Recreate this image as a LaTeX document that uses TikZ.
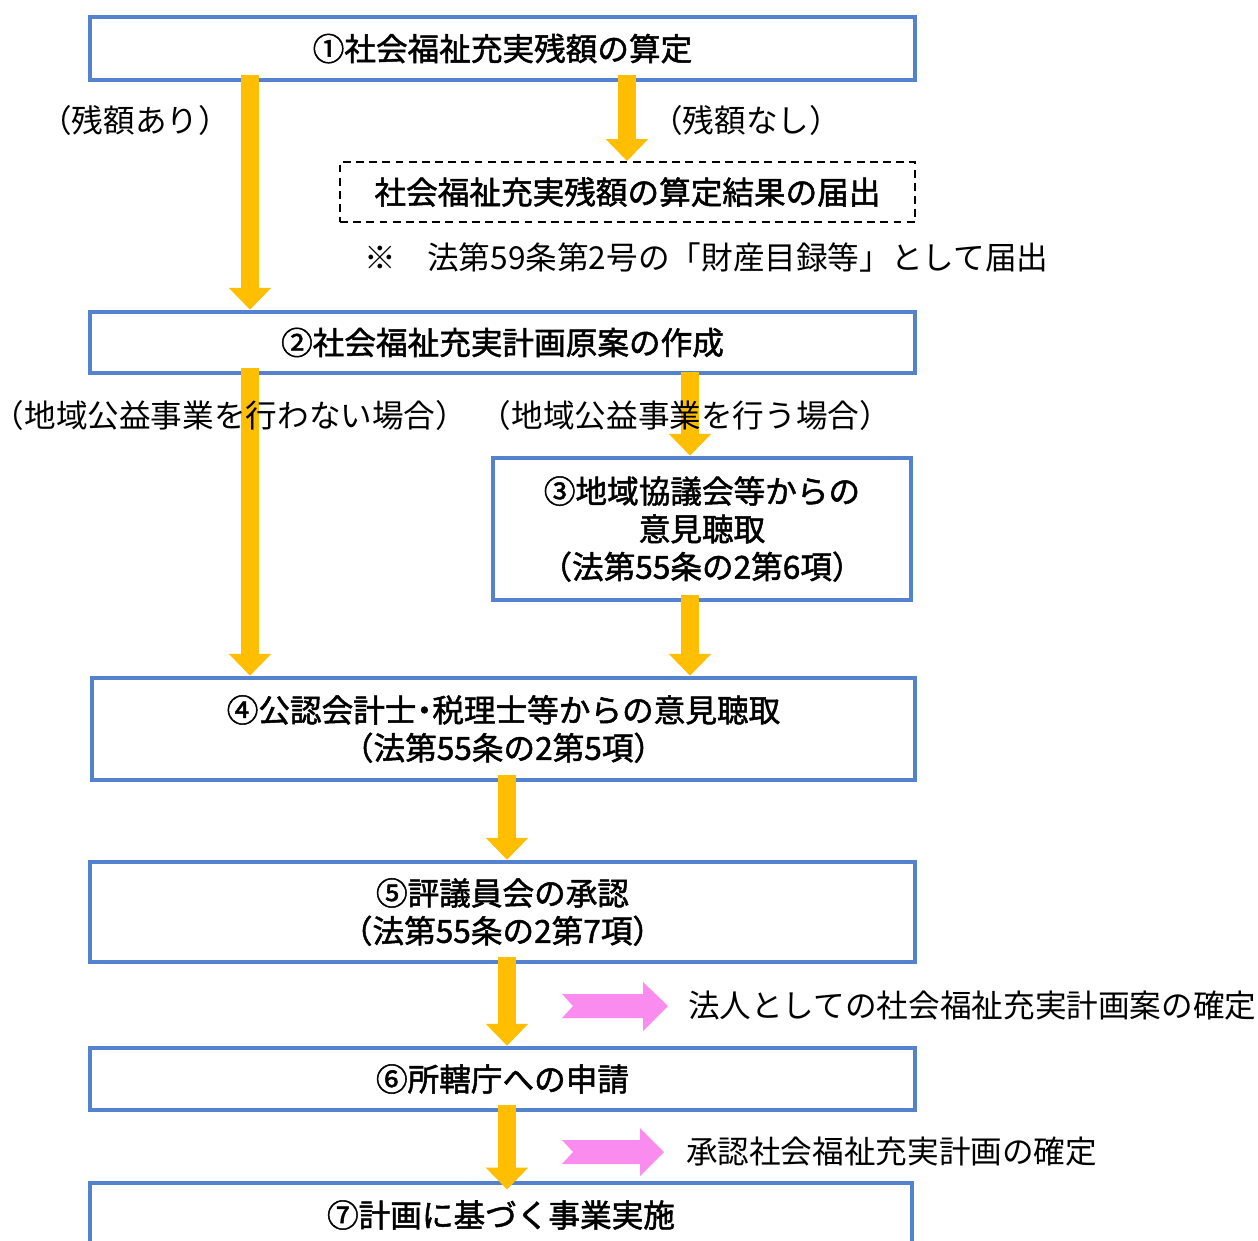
\documentclass[tikz,border=0pt]{standalone}
\usepackage{fontspec}
\setmainfont{Noto Sans CJK JP}[BoldFont=Noto Sans CJK JP, BoldFeatures={FakeBold=1.6}]
\usetikzlibrary{arrows.meta}
\definecolor{boxblue}{RGB}{84,130,206}
\definecolor{arrowyellow}{RGB}{255,190,0}
\definecolor{pinkarrow}{RGB}{250,140,240}
\newcommand\jlp{\makebox[0.5em][r]{（}}
\newcommand\jrp{\makebox[0.5em][l]{）}}
\newcommand\jdot{\makebox[0.5em][c]{・}}
\begin{document}
\begin{tikzpicture}[x=0.02cm,y=-0.02cm,
  flowbox/.style={draw=boxblue, line width=2.6pt, fill=white, rectangle, inner sep=0pt,
    align=center, font=\fontsize{18pt}{21.5pt}\selectfont\bfseries},
  dashbox/.style={draw=black, line width=1.1pt, dash pattern=on 4.5pt off 3pt, fill=white,
    rectangle, inner sep=0pt, font=\fontsize{18pt}{21.5pt}\selectfont\bfseries},
  yarrow/.style={draw=arrowyellow, line width=10.2pt, shorten <=-4pt,
    -{Triangle[width=23.5pt,length=12.5pt]}},
  lbl/.style={inner sep=1pt, font=\fontsize{18pt}{21.5pt}\selectfont},
  pinkarr/.style={fill=pinkarrow, draw=none}
]
\fill[white] (0,0) rectangle (1258,1241);
\clip (0,0) rectangle (1258,1241);

% column coordinates
\coordinate (cL) at (250,0);
\coordinate (cN) at (627,0);
\coordinate (cR) at (690,0);
\coordinate (cM) at (507,0);

% boxes
\node[flowbox, minimum width=16.5cm, minimum height=1.26cm] (b1) at (502.5,48.5) {①社会福祉充実残額の算定};
\node[dashbox, minimum width=11.5cm, minimum height=1.2cm] (bn) at (627.5,192) {社会福祉充実残額の算定結果の届出};
\node[flowbox, minimum width=16.5cm, minimum height=1.22cm] (b2) at (502.5,342.5) {②社会福祉充実計画原案の作成};
\node[flowbox, minimum width=8.36cm, minimum height=2.84cm] (b3) at (702,529) {③地域協議会等からの\\意見聴取\\\jlp 法第55条の2第6項\jrp};
\node[flowbox, minimum width=16.46cm, minimum height=2.04cm] (b4) at (503.5,729) {④公認会計士\jdot 税理士等からの意見聴取\\\jlp 法第55条の2第5項\jrp};
\node[flowbox, minimum width=16.5cm, minimum height=2.0cm] (b5) at (502.5,912) {⑤評議員会の承認\\\jlp 法第55条の2第7項\jrp};
\node[flowbox, minimum width=16.5cm, minimum height=1.24cm] (b6) at (502.5,1079) {⑥所轄庁への申請};
\node[flowbox, minimum width=16.44cm, minimum height=1.28cm] (b7) at (501,1215) {⑦計画に基づく事業実施};

% yellow arrows
\draw[yarrow] (b1.south -| cL) -- (b2.north -| cL);
\draw[yarrow] (b1.south -| cN) -- (bn.north -| cN);
\draw[yarrow] (b2.south -| cL) -- (b4.north -| cL);
\draw[yarrow, shorten <=-2pt] (b2.south -| cR) -- (b3.north -| cR);
\draw[yarrow] (b3.south -| cR) -- (b4.north -| cR);
\draw[yarrow] (b4.south -| cM) -- (b5.north -| cM);
\draw[yarrow] (b5.south -| cM) -- (b6.north -| cM);
\draw[yarrow, shorten >=-5pt] (b6.south -| cM) -- (b7.north -| cM);

% pink arrows
\fill[pinkarr] (562,994) -- (643,994) -- (643,982) -- (668,1006) -- (643,1031) -- (643,1018) -- (562,1018) -- (573,1006) -- cycle;
\fill[pinkarr] (562,1140) -- (640,1140) -- (640,1128) -- (664,1152) -- (640,1176) -- (640,1164) -- (562,1164) -- (573,1152) -- cycle;

% labels
\node[lbl] (l1) at (135,120) {\jlp 残額あり\jrp};
\node[lbl] (l2) at (746,120) {\jlp 残額なし\jrp};
\node[lbl, anchor=west] (l3) at (362,257) {※　法第59条第2号の「財産目録等」として届出};
\node[lbl] (l4) at (230,415) {\jlp 地域公益事業を行わない場合\jrp};
\node[lbl] (l5) at (685.5,415) {\jlp 地域公益事業を行う場合\jrp};
\node[lbl, anchor=west] (l6) at (686,1006) {法人としての社会福祉充実計画案の確定};
\node[lbl, anchor=west] (l7) at (684,1152) {承認社会福祉充実計画の確定};
\end{tikzpicture}
\end{document}
